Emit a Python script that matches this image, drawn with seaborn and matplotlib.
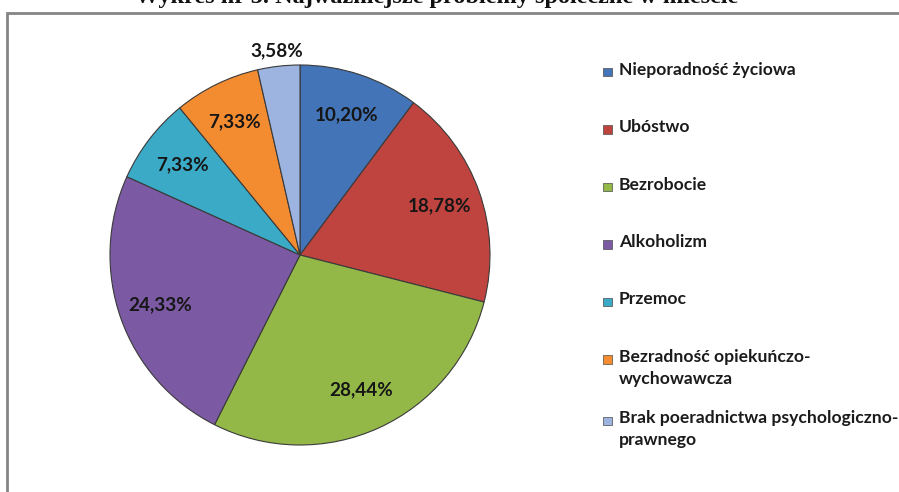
import matplotlib
matplotlib.use("Agg")
import matplotlib.pyplot as plt
from matplotlib.patches import Rectangle
import numpy as np
import seaborn as sns

# Data
categories = [
    "Nieporadność życiowa",
    "Ubóstwo",
    "Bezrobocie",
    "Alkoholizm",
    "Przemoc",
    "Bezradność opiekuńczo-\nwychowawcza",
    "Brak poeradnictwa psychologiczno-\nprawnego",
]
values = [10.20, 18.78, 28.44, 24.33, 7.33, 7.33, 3.58]
colors = ["#4374B7", "#BF433F", "#93B847", "#7B5AA3", "#3AAAC6", "#F38B30", "#9DB4E0"]
title = "Wykres nr 5. Najważniejsze problemy społeczne w mieście"

sns.set_theme(style="white")
plt.rcParams["font.family"] = ["Lato", "DejaVu Sans"]

W, H = 899, 492
fig = plt.figure(figsize=(W / 100, H / 100), dpi=100)
fig.patch.set_facecolor("white")

def fx(px):
    return px / W

def fy(py):
    return (H - py) / H

# Outer frame (top and left edges visible)
fig.patches.append(Rectangle((fx(7), -0.1), 1.2, fy(13) + 0.1,
                             transform=fig.transFigure, fill=False,
                             edgecolor="#858585", linewidth=2.0))

# Title, running off the top edge
fig.text(fx(437), fy(2.5), title, ha="center", va="baseline",
         fontsize=17.5, fontweight="bold", family=["Liberation Serif"], color="#111111")

# Pie axes: center (300, 255) px, radius 190 px
cx, cy, r = 300, 255, 190
ax = fig.add_axes([fx(cx - r), fy(cy + r), 2 * r / W, 2 * r / H])
wedges, _ = ax.pie(values, colors=colors, startangle=90, counterclock=False,
                   radius=1.0,
                   wedgeprops=dict(edgecolor="#3a3a3a", linewidth=0.8))
ax.set_xlim(-1, 1)
ax.set_ylim(-1, 1)
ax.set_aspect("equal")
ax.axis("off")

# Value labels at each wedge's mid angle
for i, (w, v) in enumerate(zip(wedges, values)):
    mid = np.deg2rad((w.theta1 + w.theta2) / 2)
    d = 1.08 if i == len(values) - 1 else 0.78
    txt = f"{v:.2f}%".replace(".", ",")
    ax.text(d * np.cos(mid), d * np.sin(mid), txt, ha="center", va="center",
            fontsize=13.6, fontweight="bold", color="#161616", clip_on=False)

# Legend: one entry per slot, marker aligned with the first text line
leg_x, leg_step, box = 603, 57.5, 8.5
yc = 72
for i, (lab, c) in enumerate(zip(categories, colors)):
    if i > 0:
        yc += leg_step + 4 * categories[i - 1].count("\n")
    fig.patches.append(Rectangle((fx(leg_x), fy(yc + box / 2)), box / W, box / H,
                                 transform=fig.transFigure, facecolor=c,
                                 edgecolor="#4a4a4a", linewidth=0.5))
    fig.text(fx(leg_x + 16), fy(yc - 10.5), lab, ha="left", va="top",
             fontsize=12.6, fontweight="bold", color="#1b1b1b", linespacing=1.45)

fig.savefig("out.png", dpi=100)
